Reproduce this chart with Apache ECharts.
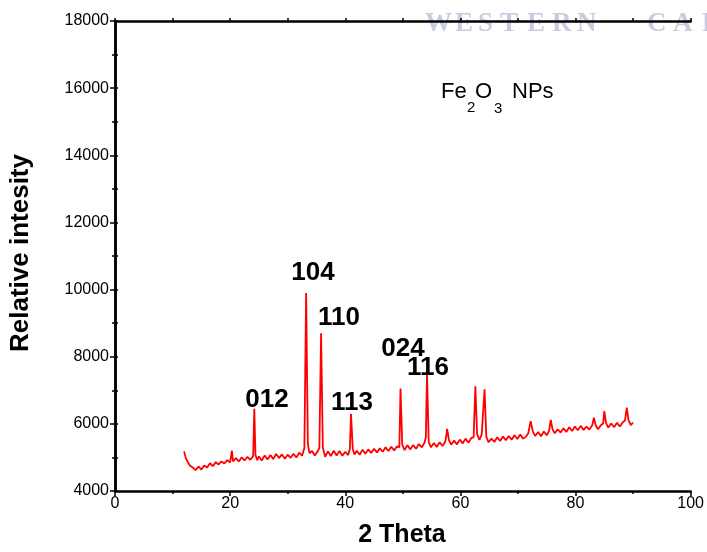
<!DOCTYPE html>
<html>
<head>
<meta charset="utf-8">
<title>Fe2O3 NPs XRD</title>
<script src="https://cdn.jsdelivr.net/npm/echarts@6/dist/echarts.min.js"></script>
<style>
  html, body { margin: 0; padding: 0; background: #fff; }
  #chart { width: 707px; height: 552px; }
</style>
</head>
<body>
<div id="chart"></div>
<script>
// 2θ positions (deg) and intensity
const twoTheta = [
  12.0, 12.3, 12.6, 13.0, 13.5, 14.0, 14.5, 15.0, 15.5, 16.0, 16.5, 17.0, 17.5, 18.0, 18.5, 19.0, 19.5, 20.0, 20.3, 20.5,
  21.0, 21.5, 22.0, 22.5, 23.0, 23.5, 24.0, 24.2, 24.4, 24.7, 25.0, 25.5, 26.0, 26.5, 27.0, 27.5, 28.0, 28.5, 29.0, 29.5,
  30.0, 30.5, 31.0, 31.5, 32.0, 32.5, 32.9, 33.2, 33.5, 33.8, 34.2, 34.7, 35.2, 35.5, 35.8, 36.1, 36.5, 37.0, 37.5, 38.0,
  38.5, 39.0, 39.5, 40.0, 40.5, 40.8, 41.0, 41.3, 41.6, 42.0, 42.5, 43.0, 43.5, 44.0, 44.5, 45.0, 45.5, 46.0, 46.5, 47.0,
  47.5, 48.0, 48.5, 49.0, 49.4, 49.6, 49.9, 50.3, 50.8, 51.3, 51.8, 52.3, 52.8, 53.3, 53.8, 54.0, 54.2, 54.5, 54.9, 55.4,
  55.9, 56.4, 56.9, 57.4, 57.7, 58.0, 58.4, 58.9, 59.4, 59.9, 60.4, 60.9, 61.4, 61.9, 62.3, 62.6, 62.9, 63.3, 63.7, 64.0,
  64.2, 64.5, 64.9, 65.4, 65.9, 66.4, 66.9, 67.4, 67.9, 68.4, 68.9, 69.4, 69.9, 70.4, 70.9, 71.4, 71.8, 72.2, 72.6, 73.0,
  73.5, 74.0, 74.5, 75.0, 75.4, 75.7, 76.0, 76.4, 76.9, 77.4, 77.9, 78.4, 78.9, 79.4, 79.9, 80.4, 80.9, 81.4, 81.9, 82.4,
  82.9, 83.2, 83.5, 83.9, 84.4, 84.8, 85.0, 85.3, 85.7, 86.2, 86.7, 87.2, 87.7, 88.2, 88.6, 88.9, 89.2, 89.6, 90.0
]
const intensity = [
  5180, 4980, 4880, 4760, 4700, 4620, 4730, 4640, 4760, 4700, 4830, 4740, 4860, 4790, 4880, 4820, 4920, 4850, 5200, 4880,
  4980, 4880, 5000, 4910, 5020, 4930, 5040, 6450, 5080, 4920, 5030, 4910, 5060, 4940, 5070, 4950, 5100, 4980, 5090, 4960,
  5080, 4990, 5110, 5000, 5140, 5050, 5280, 9900, 5400, 5120, 5200, 5060, 5180, 5280, 8700, 5300, 5020, 5180, 5040, 5200,
  5060, 5190, 5050, 5170, 5070, 5260, 6300, 5260, 5090, 5200, 5080, 5230, 5110, 5240, 5130, 5260, 5150, 5270, 5170, 5300,
  5190, 5320, 5210, 5330, 5300, 7050, 5380, 5220, 5360, 5240, 5370, 5260, 5400, 5300, 5450, 5600, 7480, 5450, 5300, 5430,
  5310, 5450, 5340, 5480, 5850, 5520, 5380, 5500, 5390, 5530, 5420, 5560, 5440, 5580, 5600, 7120, 5700, 5520, 5680, 5700,
  7030, 5620, 5450, 5560, 5460, 5600, 5490, 5620, 5510, 5640, 5530, 5660, 5550, 5680, 5560, 5620, 5720, 6080, 5760, 5640,
  5760, 5630, 5770, 5660, 5790, 6120, 5840, 5720, 5840, 5740, 5870, 5760, 5900, 5790, 5920, 5810, 5940, 5820, 5920, 5830,
  5960, 6180, 5960, 5840, 5960, 6010, 6380, 6020, 5890, 6010, 5900, 6030, 5920, 6050, 6100, 6480, 6120, 5960, 6040
]
const peakLabels = ['012', '104', '110', '113', '024', '116']

const chart = echarts.init(document.getElementById('chart'))
const font = 'Liberation Sans, Arial, sans-serif'

// peak label anchors (pixels)
const labelPos = [[267, 400], [313, 273], [339, 318], [352, 403], [403, 349], [428, 368]]

const graphics = peakLabels.map((t, i) => ({
  type: 'text',
  x: labelPos[i][0],
  y: labelPos[i][1],
  z: 10,
  style: { text: t, font: 'bold 26px ' + font, fill: '#000', align: 'center', verticalAlign: 'middle' }
}))

// Fe2O3 NPs with subscripts
const formula = [
  ['Fe', 441, 92, 22], ['2', 467, 108, 15], ['O', 475, 92, 22], ['3', 494, 109, 15], ['NPs', 512, 92, 22]
]
formula.forEach(f => {
  graphics.push({
    type: 'text', x: f[1], y: f[2], z: 10,
    style: { text: f[0], font: f[3] + 'px ' + font, fill: '#000', align: 'left', verticalAlign: 'middle' }
  })
})

// faint scan watermark, clipped at the right edge
const wmLetters = ['W', 'E', 'S', 'T', 'E', 'R', 'N', 'C', 'A', 'P']
const wmX = [425, 455, 478, 500, 527, 552, 577, 647, 673, 702]
wmLetters.forEach((ch, i) => {
  graphics.push({
    type: 'text', x: wmX[i], y: 24, z: 0,
    style: { text: ch, font: 'bold 27px Liberation Serif, serif', fill: '#c9cce0', align: 'left', verticalAlign: 'middle' }
  })
})

graphics.push({
  type: 'text', x: 402, y: 535, z: 10,
  style: { text: '2 Theta', font: 'bold 25px ' + font, fill: '#000', align: 'center', verticalAlign: 'middle' }
})
graphics.push({
  type: 'text', x: 21, y: 253, z: 10, rotation: Math.PI / 2,
  style: { text: 'Relative intesity', font: 'bold 26px ' + font, fill: '#000', align: 'center', verticalAlign: 'middle' }
})

const axisLine = { show: true, lineStyle: { color: '#000', width: 2.5 } }

chart.setOption({
  animation: false,
  backgroundColor: '#fff',
  grid: { left: 115, right: 16, top: 21, bottom: 61 },
  graphic: graphics,
  xAxis: [
    {
      type: 'value', min: 0, max: 100, interval: 20,
      axisLine: axisLine,
      axisTick: { show: true, inside: false, length: 5, lineStyle: { color: '#000', width: 1.5 } },
      minorTick: { show: true, splitNumber: 2, length: 3, lineStyle: { color: '#000', width: 1.5 } },
      axisLabel: { color: '#000', fontSize: 16, fontFamily: font, margin: 5 },
      splitLine: { show: false }
    },
    {
      type: 'value', position: 'top', min: 0, max: 100, interval: 10,
      axisLine: axisLine,
      axisTick: { show: true, inside: false, length: 3, lineStyle: { color: '#000', width: 1.5 } },
      axisLabel: { show: false },
      splitLine: { show: false }
    }
  ],
  yAxis: [
    {
      type: 'value', min: 4000, max: 18000, interval: 2000,
      axisLine: axisLine,
      axisTick: { show: true, inside: false, length: 5, lineStyle: { color: '#000', width: 1.5 } },
      minorTick: { show: true, splitNumber: 2, length: 3, lineStyle: { color: '#000', width: 1.5 } },
      axisLabel: { color: '#000', fontSize: 16, fontFamily: font, margin: 6, formatter: v => String(v) },
      splitLine: { show: false }
    },
    {
      type: 'value', position: 'right', min: 4000, max: 18000, interval: 1000,
      axisLine: axisLine,
      axisTick: { show: true, inside: false, length: 3, lineStyle: { color: '#000', width: 1.5 } },
      axisLabel: { show: false },
      splitLine: { show: false }
    }
  ],
  series: [
    {
      type: 'line',
      xAxisIndex: 0,
      yAxisIndex: 0,
      data: twoTheta.map((x, i) => [x, intensity[i]]),
      symbol: 'none',
      lineStyle: { color: '#ff0000', width: 1.8 },
      z: 3
    }
  ]
})
</script>
</body>
</html>
